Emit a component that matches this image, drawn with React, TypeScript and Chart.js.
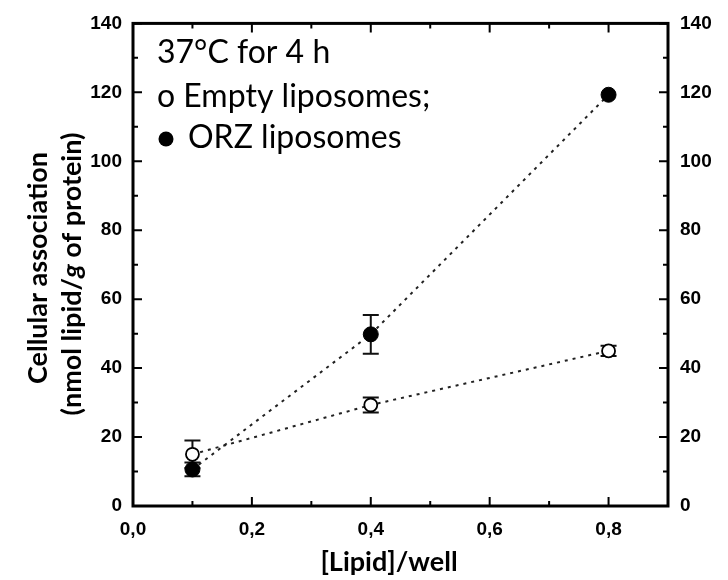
import { useEffect, useRef } from 'react';
import { Chart, registerables } from 'chart.js';
Chart.register(...registerables);

// ---- data ----
const lipidDose = [0.1, 0.4, 0.8];
const emptyValues = [15, 29.3, 45];
const emptyErrors = [4, 2.2, 1.5];
const orzValues = [10.6, 49.8, 119.3];
const orzErrors = [2, 5.6, 0];

const xMajorTicks = [0, 0.2, 0.4, 0.6, 0.8];
const xMinorTicks = [0.1, 0.3, 0.5, 0.7];
const yMajorTicks = [0, 20, 40, 60, 80, 100, 120, 140];
const yMinorTicks = [10, 30, 50, 70, 90, 110, 130];

const seriesNames = ['Empty liposomes', 'ORZ liposomes'];
const legendLines = ['37°C for 4 h', 'o Empty liposomes;', 'ORZ liposomes'];
const xTitle = '[Lipid]/well';
const yTitle1 = 'Cellular association';
const yTitle2Parts = ['(nmol lipid/', 'g', ' of protein)'];

const fmtX = (v: number) => v.toFixed(1).replace('.', ',');

const errorBarsPlugin = {
  id: 'errorBars',
  beforeDatasetsDraw(chart: any) {
    const ctx = chart.ctx;
    const xs = chart.scales.x;
    const ys = chart.scales.y;
    const sets = [
      { vals: emptyValues, errs: emptyErrors },
      { vals: orzValues, errs: orzErrors },
    ];
    ctx.save();
    ctx.strokeStyle = '#111';
    ctx.lineWidth = 2;
    sets.forEach((s) => {
      lipidDose.forEach((d, i) => {
        if (!s.errs[i]) return;
        const x = xs.getPixelForValue(d);
        const yT = ys.getPixelForValue(s.vals[i] + s.errs[i]);
        const yB = ys.getPixelForValue(s.vals[i] - s.errs[i]);
        ctx.beginPath();
        ctx.moveTo(x, yT);
        ctx.lineTo(x, yB);
        ctx.moveTo(x - 8, yT);
        ctx.lineTo(x + 8, yT);
        ctx.moveTo(x - 8, yB);
        ctx.lineTo(x + 8, yB);
        ctx.stroke();
      });
    });
    ctx.restore();
  },
};

const framePlugin = {
  id: 'frame',
  afterDraw(chart: any) {
    const ctx = chart.ctx;
    const { left, right, top, bottom } = chart.chartArea;
    const xs = chart.scales.x;
    const ys = chart.scales.y;
    ctx.save();
    ctx.strokeStyle = '#000';
    ctx.lineWidth = 2;
    const major = 9;
    const minor = 5;
    ctx.beginPath();
    const xt = (v: number, len: number) => {
      const p = xs.getPixelForValue(v);
      ctx.moveTo(p, bottom);
      ctx.lineTo(p, bottom - len);
      ctx.moveTo(p, top);
      ctx.lineTo(p, top + len);
    };
    const yt = (v: number, len: number) => {
      const p = ys.getPixelForValue(v);
      ctx.moveTo(left, p);
      ctx.lineTo(left + len, p);
      ctx.moveTo(right, p);
      ctx.lineTo(right - len, p);
    };
    xMajorTicks.forEach((v) => xt(v, major));
    xMinorTicks.forEach((v) => xt(v, minor));
    yMajorTicks.forEach((v) => yt(v, major));
    yMinorTicks.forEach((v) => yt(v, minor));
    ctx.stroke();
    ctx.lineWidth = 3;
    ctx.strokeRect(left, top, right - left, bottom - top);

    // annotation text
    ctx.fillStyle = '#000';
    ctx.textBaseline = 'alphabetic';
    ctx.textAlign = 'left';
    ctx.font = '32px Lato';
    ctx.fillText(legendLines[0], 157, 63);
    ctx.fillText(legendLines[1], 157, 107);
    ctx.fillText(legendLines[2], 188, 148);
    ctx.beginPath();
    ctx.arc(166, 139, 7.5, 0, Math.PI * 2);
    ctx.fill();

    // x title
    ctx.font = 'bold 27px Lato';
    ctx.textAlign = 'center';
    ctx.fillText(xTitle, 389, 571);

    // y title
    ctx.save();
    ctx.translate(38, 268);
    ctx.rotate(-Math.PI / 2);
    ctx.font = 'bold 27px Lato';
    ctx.textAlign = 'center';
    ctx.fillText(yTitle1, 0, 9);
    ctx.restore();

    ctx.save();
    ctx.translate(72, 274);
    ctx.rotate(-Math.PI / 2);
    const fonts = ['bold 27px Lato', 'italic bold 27px Lato', 'bold 27px Lato'];
    let total = 0;
    const widths = yTitle2Parts.map((t, i) => {
      ctx.font = fonts[i];
      const w = ctx.measureText(t).width;
      total += w;
      return w;
    });
    let x = -total / 2;
    ctx.textAlign = 'left';
    yTitle2Parts.forEach((t, i) => {
      ctx.font = fonts[i];
      ctx.fillText(t, x, 9);
      x += widths[i];
    });
    ctx.restore();
    ctx.restore();
  },
};

export default function App() {
  const ref = useRef<HTMLCanvasElement>(null);
  useEffect(() => {
    if (!ref.current) return;
    const tickFont = { family: "'Liberation Sans', Arial, sans-serif", size: 19, weight: 'bold' as const };
    const chart = new Chart(ref.current, {
      type: 'scatter',
      data: {
        datasets: [
          {
            label: seriesNames[0],
            data: lipidDose.map((x, i) => ({ x, y: emptyValues[i] })),
            showLine: true,
            borderColor: '#222',
            borderWidth: 2,
            borderDash: [3, 5],
            pointRadius: 6.5,
            pointBorderWidth: 1.8,
            pointBackgroundColor: '#fff',
            pointBorderColor: '#000',
            order: 2,
          },
          {
            label: seriesNames[1],
            data: lipidDose.map((x, i) => ({ x, y: orzValues[i] })),
            showLine: true,
            borderColor: '#222',
            borderWidth: 2,
            borderDash: [3, 5],
            pointRadius: 7.5,
            pointBorderWidth: 1,
            pointBackgroundColor: '#000',
            pointBorderColor: '#000',
            order: 1,
          },
        ],
      },
      options: {
        animation: false,
        responsive: false,
        layout: { padding: { top: 21, left: 0, right: 0, bottom: 0 } },
        plugins: { legend: { display: false }, tooltip: { enabled: false } },
        scales: {
          x: {
            type: 'linear',
            position: 'bottom',
            min: 0,
            max: 0.9,
            grid: { display: false, drawTicks: false },
            border: { display: false },
            afterBuildTicks: (s: any) => {
              s.ticks = xMajorTicks.map((v) => ({ value: v }));
            },
            afterFit: (s: any) => {
              s.height = 74;
            },
            ticks: {
              color: '#000',
              font: tickFont,
              padding: 12,
              maxRotation: 0,
              callback: (v: any) => fmtX(Number(v)),
            },
          },
          y: {
            type: 'linear',
            position: 'left',
            min: 0,
            max: 140,
            grid: { display: false, drawTicks: false },
            border: { display: false },
            afterBuildTicks: (s: any) => {
              s.ticks = yMajorTicks.map((v) => ({ value: v }));
            },
            afterFit: (s: any) => {
              s.width = 133;
            },
            ticks: { color: '#000', font: tickFont, padding: 11 },
          },
          y2: {
            type: 'linear',
            position: 'right',
            min: 0,
            max: 140,
            grid: { display: false, drawTicks: false },
            border: { display: false },
            afterBuildTicks: (s: any) => {
              s.ticks = yMajorTicks.map((v) => ({ value: v }));
            },
            afterFit: (s: any) => {
              s.width = 60;
            },
            ticks: { color: '#000', font: tickFont, padding: 12 },
          },
        },
      },
      plugins: [errorBarsPlugin, framePlugin],
    });
    return () => chart.destroy();
  }, []);
  return (
    <div style={{ position: 'absolute', left: 0, top: 0, width: 728, height: 580, background: '#fff' }}>
      <canvas ref={ref} width={728} height={580} />
    </div>
  );
}
